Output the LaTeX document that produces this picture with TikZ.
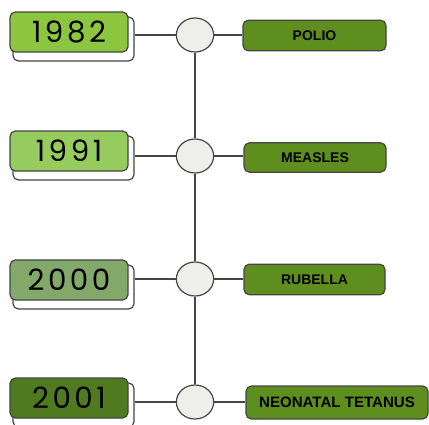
\documentclass[tikz,border=0pt]{standalone}
\usepackage{fontspec}
\setmainfont{Liberation Sans}
\newfontfamily\yearfont[LetterSpace=12]{Poppins}
\usetikzlibrary{shapes.geometric}
\definecolor{lineC}{HTML}{454545}
\definecolor{yA}{HTML}{8CC63F}
\definecolor{yB}{HTML}{96CC5E}
\definecolor{yC}{HTML}{82A86A}
\definecolor{yD}{HTML}{4F7A1F}
\definecolor{evC}{HTML}{5E8E1E}
\definecolor{circC}{HTML}{EEEEEA}
\tikzset{
  yearbox/.style={draw=lineC, line width=0.9pt, rounded corners=4pt, minimum width=88.5pt, minimum height=30pt, inner sep=0pt, font=\yearfont\fontsize{22}{22}\selectfont, text=black},
  shadowbox/.style={draw=lineC, line width=0.9pt, fill=white, rounded corners=4pt, minimum width=90.75pt, minimum height=33pt, inner sep=0pt},
  dot/.style={ellipse, draw=lineC, line width=0.9pt, fill=circC, minimum width=28pt, minimum height=25.5pt, inner sep=0pt},
  evbox/.style={draw=lineC, line width=0.9pt, fill=evC, rounded corners=4pt, minimum height=23pt, inner sep=0pt, font=\bfseries\fontsize{10.5}{10.5}\selectfont, text=black},
  conn/.style={draw=lineC, line width=0.9pt}
}
\begin{document}
\begin{tikzpicture}[x=0.75pt,y=-0.75pt]
\useasboundingbox (0,0) rectangle (429,425);
% row 1
\node[shadowbox] (s1) at (73.5,39) {};
\node[yearbox, fill=yA] (y1) at (69,32) {1982};
\node[dot] (c1) at (195,35) {};
\node[evbox, minimum width=107.25pt] (e1) at (314.5,35.5) {POLIO};
% row 2
\node[shadowbox] (s2) at (73.5,158) {};
\node[yearbox, fill=yB] (y2) at (69,151) {1991};
\node[dot] (c2) at (195,156) {};
\node[evbox, minimum width=106.5pt, minimum height=22pt] (e2) at (315,157.5) {MEASLES};
% row 3
\node[shadowbox] (s3) at (73.5,287) {};
\node[yearbox, fill=yC] (y3) at (69,280) {2000};
\node[dot] (c3) at (195,279) {};
\node[evbox, minimum width=105.75pt] (e3) at (314.5,279.5) {RUBELLA};
% row 4
\node[shadowbox] (s4) at (73.5,405) {};
\node[yearbox, fill=yD] (y4) at (69,398) {2001};
\node[dot] (c4) at (195,402) {};
\node[evbox, minimum width=136.5pt, minimum height=24.75pt, font=\bfseries\fontsize{11.3}{11.3}\selectfont] (e4) at (337,402.5) {NEONATAL TETANUS};
% connectors
\foreach \i in {1,2,3,4}{
  \draw[conn] (s\i.east |- c\i.west) -- (c\i.west);
  \draw[conn] (c\i.east) -- (e\i.west |- c\i.east);
}
\draw[conn] (c1.south) -- (c2.north);
\draw[conn] (c2.south) -- (c3.north);
\draw[conn] (c3.south) -- (c4.north);
\end{tikzpicture}
\end{document}
